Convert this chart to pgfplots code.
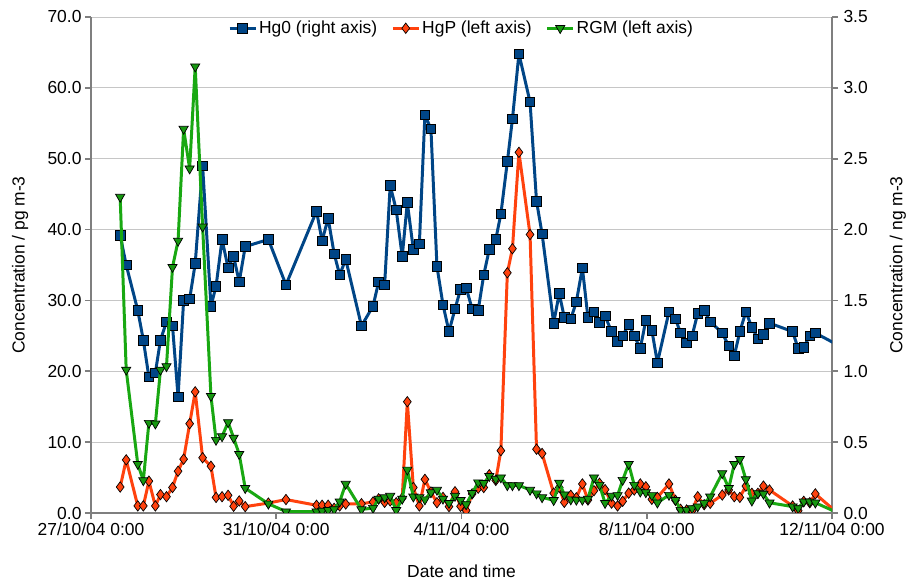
\documentclass[border=0pt]{standalone}
\usepackage{fontspec}
\setmainfont{Liberation Sans}
\usepackage{pgfplots}
\pgfplotsset{compat=1.18}
\usepackage{pgfplotstable}

\definecolor{hgzero}{HTML}{004586}
\definecolor{hgp}{HTML}{FF420E}
\definecolor{rgm}{HTML}{19A812}
\definecolor{axisgray}{HTML}{7F7F7F}
\definecolor{gridgray}{HTML}{C6C6C6}

\pgfplotstableread{
x hg0 hgp rgm
0.63 1.96 3.67 44.6
0.76 1.75 7.5 20.2
1.01 1.43 1.0 6.9
1.13 1.22 1.0 4.6
1.25 0.96 4.5 12.7
1.39 0.99 1.0 12.6
1.50 1.22 2.6 20.2
1.63 1.35 2.3 20.7
1.76 1.32 3.6 34.7
1.88 0.82 5.9 38.4
2.00 1.50 7.6 54.2
2.13 1.51 12.6 48.6
2.25 1.76 17.1 63.0
2.41 2.45 7.8 40.4
2.59 1.46 6.6 16.5
2.70 1.60 2.2 10.3
2.83 1.93 2.3 10.8
2.96 1.73 2.5 12.8
3.08 1.81 0.95 10.6
3.20 1.63 1.7 8.3
3.33 1.88 0.9 3.5
3.83 1.93 1.4 1.3
4.21 1.61 1.9 0.2
4.87 2.13 1.09 0.2
4.99 1.92 1.09 0.3
5.12 2.08 1.09 0.4
5.25 1.83 0.66 0.5
5.37 1.68 1.0 1.6
5.50 1.79 1.27 4.1
5.84 1.32 1.31 0.5
6.09 1.46 1.55 0.7
6.21 1.63 2.0 2.0
6.34 1.61 1.5 2.2
6.46 2.31 1.7 2.4
6.59 2.14 1.45 0.4
6.72 1.81 2.1 2.0
6.83 2.19 15.7 6.1
6.96 1.86 3.6 2.3
7.09 1.90 1.0 2.2
7.21 2.81 4.75 1.9
7.34 2.71 2.96 2.9
7.47 1.74 1.45 3.25
7.60 1.47 2.2 2.0
7.73 1.28 0.9 1.4
7.86 1.44 3.0 2.4
7.98 1.58 0.94 1.8
8.10 1.59 0.35 1.2
8.23 1.44 2.7 2.8
8.36 1.43 3.5 4.3
8.48 1.68 3.6 4.2
8.60 1.86 5.4 5.2
8.74 1.93 4.6 4.8
8.85 2.11 8.8 5.0
8.99 2.48 33.9 3.9
9.10 2.78 37.3 3.9
9.24 3.24 50.9 3.9
9.48 2.90 39.3 3.25
9.62 2.20 9.0 2.75
9.74 1.97 8.4 2.2
9.99 1.34 2.8 1.8
10.11 1.55 3.6 4.25
10.22 1.38 1.5 2.6
10.36 1.37 2.5 1.9
10.48 1.49 2.15 1.85
10.61 1.73 4.1 1.85
10.73 1.38 1.83 2.0
10.86 1.42 3.15 5.0
10.98 1.345 4.2 3.95
11.10 1.39 3.3 1.4
11.24 1.28 1.4 2.4
11.37 1.21 1.0 2.5
11.48 1.25 1.65 4.65
11.61 1.33 2.8 6.9
11.73 1.25 3.25 3.95
11.86 1.16 4.1 3.0
11.98 1.36 3.7 2.9
12.11 1.29 1.93 2.5
12.23 1.06 2.2 1.45
12.48 1.42 4.1 2.54
12.62 1.37 1.8 1.8
12.73 1.27 0.52 0.42
12.86 1.20 0.42 0.42
12.98 1.25 0.33 0.66
13.10 1.41 2.3 0.9
13.24 1.43 1.17 1.37
13.37 1.35 1.37 2.3
13.63 1.27 2.54 5.6
13.77 1.18 3.25 3.5
13.89 1.11 2.3 6.9
14.01 1.28 2.2 7.6
14.14 1.42 3.8 4.75
14.27 1.31 2.78 1.73
14.40 1.23 2.78 2.78
14.52 1.26 3.8 2.7
14.65 1.34 3.25 1.45
15.15 1.28 0.99 0.9
15.27 1.16 0.33 0.66
15.39 1.17 1.65 1.6
15.52 1.25 1.45 1.6
15.64 1.27 2.7 1.45
16.10 1.19 0.1 0.1
}\data

\pgfplotsset{
  base/.style={
    at={(91bp,68bp)}, anchor=south west,
    scale only axis, width=741bp, height=496bp,
    xmin=0, xmax=16,
    clip marker paths=true,
    font=\fontsize{17.5}{21}\selectfont,
    axis line style={axisgray, line width=1.8pt},
    tick style={axisgray, line width=1.6pt},
    major tick length=6bp,
    tick align=outside,
    /pgf/number format/assume math mode=true,
    yticklabel style={/pgf/number format/fixed, /pgf/number format/fixed zerofill, /pgf/number format/precision=1},
  },
  hgzstyle/.style={hgzero, line width=3pt, line join=round, mark=square*, mark size=4.8bp,
    mark options={fill=hgzero, draw=black, line width=0.7pt, solid, line join=miter}},
  hgpstyle/.style={hgp, line width=3pt, line join=round, mark=diamond*, mark size=5.2bp,
    mark options={fill=hgp, draw=black, line width=0.7pt, solid, line join=miter}},
  rgmstyle/.style={rgm, line width=3pt, line join=round, mark=triangle*, mark size=5.3bp,
    mark options={fill=rgm!90!black, draw=black, line width=0.7pt, rotate=180, solid, line join=miter}},
}

\begin{document}
\begin{tikzpicture}
\path[use as bounding box] (0,0) rectangle (910bp,581bp);

% right axis (Hg0), drawn first with grid
\begin{axis}[base,
  axis x line=none,
  axis y line*=right,
  ymin=0, ymax=3.5,
  ytick={0,0.5,1,1.5,2,2.5,3,3.5},
  ymajorgrids,
  grid style={gridgray, line width=0.9pt},
  ylabel={Concentration / ng m-3},
  ylabel style={at={(axis description cs:1.089,0.5)}, anchor=center},
  yticklabel style={anchor=west, xshift=2bp},
]
\addplot[hgzstyle] table[x=x, y=hg0] {\data};
\end{axis}

% left axis (HgP, RGM)
\begin{axis}[base,
  axis x line*=bottom,
  axis y line*=left,
  ymin=0, ymax=70,
  ytick={0,10,20,30,40,50,60,70},
  xtick={0,4,8,12,16},
  xticklabels={27/10/04 0:00, 31/10/04 0:00, 4/11/04 0:00, 8/11/04 0:00, 12/11/04 0:00},
  xlabel={Date and time},
  xlabel style={at={(axis description cs:0.5,-0.118)}, anchor=center},
  ylabel={Concentration / pg m-3},
  ylabel style={at={(axis description cs:-0.0958,0.5)}, anchor=center},
  legend columns=3,
  legend cell align=left,
  legend style={at={(axis description cs:0.5,1)}, anchor=north, draw=none, fill=none,
    font=\fontsize{17.5}{21}\selectfont,
    /tikz/every even column/.append style={column sep=12bp}},
  legend image code/.code={\draw[#1] plot coordinates {(0bp,0bp) (13bp,0bp) (26bp,0bp)};},
  every axis legend/.append style={mark repeat=2, mark phase=2},
]
\addlegendimage{hgzstyle, mark repeat=2, mark phase=2}
\addlegendentry{Hg0 (right axis)}
\addplot[hgpstyle] table[x=x, y=hgp] {\data};
\addlegendentry{HgP (left axis)}
\addplot[rgmstyle] table[x=x, y=rgm] {\data};
\addlegendentry{RGM (left axis)}
\end{axis}
\end{tikzpicture}
\end{document}
